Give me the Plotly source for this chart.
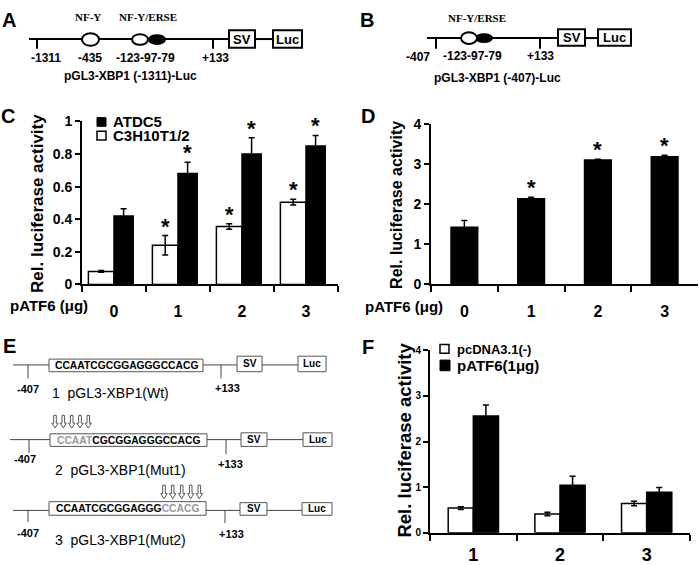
import plotly.graph_objects as go

W, H = 700, 565
FONT = "Liberation Sans"
SERIF = "Liberation Serif"

# ---------------- data ----------------
# Panel C
c_doses = ["0", "1", "2", "3"]
c_atdc5 = [0.42, 0.68, 0.80, 0.85]
c_atdc5_err = [0.045, 0.07, 0.10, 0.064]
c_c3h = [0.08, 0.24, 0.355, 0.505]
c_c3h_err = [0.005, 0.06, 0.017, 0.017]
c_atdc5_sig = [False, True, True, True]
c_c3h_sig = [False, True, True, True]

# Panel D
d_doses = ["0", "1", "2", "3"]
d_vals = [1.43, 2.14, 3.11, 3.19]
d_err = [0.17, 0.04, 0.02, 0.04]
d_sig = [False, True, True, True]

# Panel F
f_constructs = ["1", "2", "3"]
f_pcdna = [0.54, 0.41, 0.64]
f_pcdna_err = [0.03, 0.04, 0.05]
f_patf6 = [2.56, 1.04, 0.89]
f_patf6_err = [0.24, 0.20, 0.10]


def px(x):
    return x / W


def py(y):
    return 1 - y / H


shapes = []
annotations = []


def rect(x0, y0, x1, y1, fill="white", lw=2, color="black"):
    shapes.append(dict(type="rect", xref="paper", yref="paper",
                       x0=px(x0), x1=px(x1), y0=py(y1), y1=py(y0),
                       fillcolor=fill, line=dict(color=color, width=lw)))


def seg(x0, y0, x1, y1, lw=2, color="black"):
    shapes.append(dict(type="line", xref="paper", yref="paper",
                       x0=px(x0), x1=px(x1), y0=py(y0), y1=py(y1),
                       line=dict(color=color, width=lw)))


def oval(x0, y0, x1, y1, fill="white", lw=2):
    shapes.append(dict(type="circle", xref="paper", yref="paper",
                       x0=px(x0), x1=px(x1), y0=py(y1), y1=py(y0),
                       fillcolor=fill, line=dict(color="black", width=lw)))


def txt(x, y, s, size, bold=True, xanchor="center", family=FONT, color="black", angle=0):
    annotations.append(dict(x=px(x), y=py(y), xref="paper", yref="paper", text=s,
                            showarrow=False, xanchor=xanchor, yanchor="middle",
                            textangle=angle,
                            font=dict(size=size, family=family, color=color,
                                      weight="bold" if bold else "normal")))


def down_arrow(cx, ytop, ybot, color="#555"):
    hs, hh = 1.3, 3.2
    yh = ytop + 0.62 * (ybot - ytop)
    pts = [(cx - hs, ytop), (cx + hs, ytop), (cx + hs, yh), (cx + hh, yh),
           (cx, ybot), (cx - hh, yh), (cx - hs, yh)]
    path = "M " + " L ".join(f"{px(a):.5f},{py(b):.5f}" for a, b in pts) + " Z"
    shapes.append(dict(type="path", xref="paper", yref="paper", path=path,
                       fillcolor="white", line=dict(color=color, width=1)))


# ---------------- panel letters ----------------
for letter, (lx, ly) in {"A": (9, 12), "B": (367, 12), "C": (8, 111), "D": (368, 111),
                         "E": (9, 349), "F": (368, 350)}.items():
    txt(lx, ly, letter, 20)

# ---------------- panel A diagram ----------------
seg(29, 32, 229, 32)
seg(37, 32, 37, 42)
seg(213, 32, 213, 42)
seg(255, 32, 273, 32)
oval(82, 26, 99, 39)
oval(149, 28, 165, 37, fill="black")
oval(132, 27, 148, 38)
rect(229, 23, 255, 41)
rect(273, 23, 302, 41)
txt(242, 32, "SV", 13)
txt(287.5, 32, "Luc", 13)
txt(88, 9, "NF-Y", 11, family=SERIF)
txt(148, 9, "NF-Y/ERSE", 11, family=SERIF)
txt(46, 52, "-1311", 12)
txt(90, 52, "-435", 12)
txt(145, 52, "-123-97-79", 12)
txt(215, 52, "+133", 12)
txt(130, 70, "pGL3-XBP1 (-1311)-Luc", 12)

# ---------------- panel B diagram ----------------
seg(427, 31, 558, 31)
seg(436, 31, 436, 42)
seg(540, 31, 540, 42)
seg(585, 31, 598, 31)
oval(476, 27, 492, 35, fill="black")
oval(461, 25, 477, 37)
rect(558, 22, 585, 39)
rect(598, 22, 631, 39)
txt(571.5, 30.5, "SV", 13)
txt(614.5, 30.5, "Luc", 13)
txt(477, 10, "NF-Y/ERSE", 11, family=SERIF)
txt(418, 51, "-407", 12)
txt(472, 50, "-123-97-79", 12)
txt(540, 50, "+133", 12)
txt(497, 72, "pGL3-XBP1 (-407)-Luc", 12)

# ---------------- panel E diagrams ----------------
GREY = "#999999"
rows = [
    dict(y=368, lx=13, box=(49, 362, 203, 375), sv=(237, 359, 262, 375), luc=(298, 359, 326, 375),
         t1=(28, 382), t2=(221, 382), l1=(28, 393), l2=(227, 392), name=(50, 397),
         seq="<b>CCAATCGCGGAGGGCCACG</b>", label="1  pGL3-XBP1(Wt)", arrows=None),
    dict(y=445, lx=10, box=(50, 439, 207, 452), sv=(241, 438, 267, 452), luc=(303, 438, 332, 452),
         t1=(29, 459), t2=(226, 460), l1=(25, 465), l2=(230, 470), name=(53, 476),
         seq=f"<b><span style='color:{GREY}'>CCAAT</span>CGCGGAGGGCCACG</b>",
         label="2  pGL3-XBP1(Mut1)", arrows=([55, 63.3, 71.7, 80, 88.3], 420, 433)),
    dict(y=518, lx=13, box=(49, 509, 206, 523), sv=(240, 510, 267, 523), luc=(302, 510, 332, 523),
         t1=(28, 530), t2=(225, 531), l1=(28, 541), l2=(231, 542), name=(53, 548),
         seq=f"<b>CCAATCGCGGAGGG<span style='color:{GREY}'>CCACG</span></b>",
         label="3  pGL3-XBP1(Mut2)", arrows=([164, 172.7, 181.7, 190.7, 199.3], 492, 506)),
]
for r in rows:
    y = r["y"]
    seg(r["lx"], y, r["luc"][0], y, lw=1, color="#444")
    seg(r["t1"][0], y, r["t1"][0], r["t1"][1], lw=1, color="#444")
    seg(r["t2"][0], y, r["t2"][0], r["t2"][1], lw=1, color="#444")
    rect(*r["box"], lw=1, color="#555")
    rect(*r["sv"], lw=1, color="#555")
    rect(*r["luc"], lw=1, color="#555")
    bx0, by0, bx1, by1 = r["box"]
    txt((bx0 + bx1) / 2, (by0 + by1) / 2, r["seq"], 10.3)
    txt((r["sv"][0] + r["sv"][2]) / 2, (r["sv"][1] + r["sv"][3]) / 2, "SV", 10)
    txt((r["luc"][0] + r["luc"][2]) / 2, (r["luc"][1] + r["luc"][3]) / 2, "Luc", 10)
    txt(r["l1"][0], r["l1"][1], "-407", 11)
    txt(r["l2"][0], r["l2"][1], "+133", 11)
    txt(r["name"][0], r["name"][1], r["label"], 14, bold=False, xanchor="left")
    if r["arrows"]:
        xs, yt, yb = r["arrows"]
        for ax in xs:
            down_arrow(ax, yt, yb)

# ---------------- bar charts ----------------
fig = go.Figure()

err_style = dict(type="data", color="black", thickness=1.5, width=3, visible=True)

# Panel C
C_W_OFF, C_W_W = -0.40, 0.40
C_B_OFF, C_B_W = 0.0, 0.30
fig.add_trace(go.Bar(x=c_doses, y=c_c3h, name="C3H10T1/2", offset=C_W_OFF, width=C_W_W,
                     marker=dict(color="white", line=dict(color="black", width=1.5)),
                     error_y=dict(array=c_c3h_err, **err_style), xaxis="x", yaxis="y"))
fig.add_trace(go.Bar(x=c_doses, y=c_atdc5, name="ATDC5", offset=C_B_OFF, width=C_B_W,
                     marker=dict(color="black", line=dict(color="black", width=1.5)),
                     error_y=dict(array=c_atdc5_err, **err_style), xaxis="x", yaxis="y"))

# Panel D
fig.add_trace(go.Bar(x=d_doses, y=d_vals, name="pATF6", offset=-0.2, width=0.4,
                     marker=dict(color="black", line=dict(color="black", width=1.5)),
                     error_y=dict(array=d_err, **err_style), xaxis="x2", yaxis="y2"))

# Panel F
F_W = 0.29
fig.add_trace(go.Bar(x=f_constructs, y=f_pcdna, name="pcDNA3.1(-)", offset=-F_W, width=F_W,
                     marker=dict(color="white", line=dict(color="black", width=1.5)),
                     error_y=dict(array=f_pcdna_err, **err_style), xaxis="x3", yaxis="y3"))
fig.add_trace(go.Bar(x=f_constructs, y=f_patf6, name="pATF6(1μg)", offset=0, width=F_W,
                     marker=dict(color="black", line=dict(color="black", width=1.5)),
                     error_y=dict(array=f_patf6_err, **err_style), xaxis="x3", yaxis="y3"))


def star(xref, yref, x, y):
    annotations.append(dict(x=x, y=y, xref=xref, yref=yref, text="*", showarrow=False,
                            xanchor="center", yanchor="bottom", yshift=-5,
                            font=dict(size=22, family=FONT, weight="bold", color="black")))


for i, s in enumerate(c_c3h_sig):
    if s:
        star("x", "y", i + C_W_OFF + C_W_W / 2, c_c3h[i] + c_c3h_err[i])
for i, s in enumerate(c_atdc5_sig):
    if s:
        star("x", "y", i + C_B_OFF + C_B_W / 2, c_atdc5[i] + c_atdc5_err[i])
for i, s in enumerate(d_sig):
    if s:
        star("x2", "y2", i, d_vals[i] + d_err[i])

# custom legends
rect(97, 113, 106, 122, fill="black", lw=1)
rect(97, 127, 106, 136, fill="white", lw=1.5)
txt(111, 117.5, "ATDC5", 15, xanchor="left")
txt(111, 131.5, "C3H10T1/2", 15, xanchor="left")

rect(440, 347, 449, 356, fill="white", lw=1.5)
rect(440, 363, 450, 374, fill="black", lw=1)
txt(455, 352, "pcDNA3.1(-)", 13, xanchor="left")
txt(455, 369, "pATF6(1μg)", 15, xanchor="left")

# axis titles / labels
txt(38, 202, "Rel. luciferase activity", 17, angle=-90)
txt(397, 203, "Rel. luciferase activity", 16, angle=-90)
txt(405, 446, "Rel. luciferase activity", 18.5, angle=-90)
txt(8, 307, "pATF6 (μg)", 15, xanchor="left")
txt(363, 308, "pATF6 (μg)", 15, xanchor="left")

common_x = dict(type="category", tickson="boundaries", ticks="outside", ticklen=6,
                tickwidth=1.5, tickcolor="black", showline=True, linecolor="black",
                linewidth=2, showgrid=False, zeroline=False, fixedrange=True)
common_y = dict(ticks="outside", ticklen=5, tickwidth=1.5, tickcolor="black",
                showline=True, linecolor="black", linewidth=2, showgrid=False,
                zeroline=False, fixedrange=True)

fig.update_layout(
    width=W, height=H, margin=dict(l=0, r=0, t=0, b=0),
    plot_bgcolor="white", paper_bgcolor="white", showlegend=False,
    barmode="overlay",
    font=dict(family=FONT, color="black"),
    xaxis=dict(domain=[px(82), px(338)], anchor="y", range=[-0.5, 3.5],
               tickfont=dict(size=16, weight="bold"), ticklabelstandoff=11, **common_x),
    yaxis=dict(domain=[py(285), py(117)], anchor="x", range=[0, 1], dtick=0.2,
               tickfont=dict(size=14, weight="bold"), **common_y),
    xaxis2=dict(domain=[px(431), px(698)], anchor="y2", range=[-0.5, 3.5],
                tickfont=dict(size=16, weight="bold"), ticklabelstandoff=11, **common_x),
    yaxis2=dict(domain=[py(285), py(120)], anchor="x2", range=[0, 4], dtick=1,
                tickfont=dict(size=14, weight="bold"), **common_y),
    xaxis3=dict(domain=[px(430), px(690)], anchor="y3", range=[-0.5, 2.5],
                tickfont=dict(size=18, weight="bold"), ticklabelstandoff=5, **common_x),
    yaxis3=dict(domain=[py(541), py(353)], anchor="x3", range=[0, 4], dtick=1,
                tickfont=dict(size=10, weight="bold"), **common_y),
    shapes=shapes,
    annotations=annotations,
)

fig.write_html("out.html", config={"displayModeBar": False},
               post_script="document.body.style.margin='0';document.body.style.overflow='hidden';")
